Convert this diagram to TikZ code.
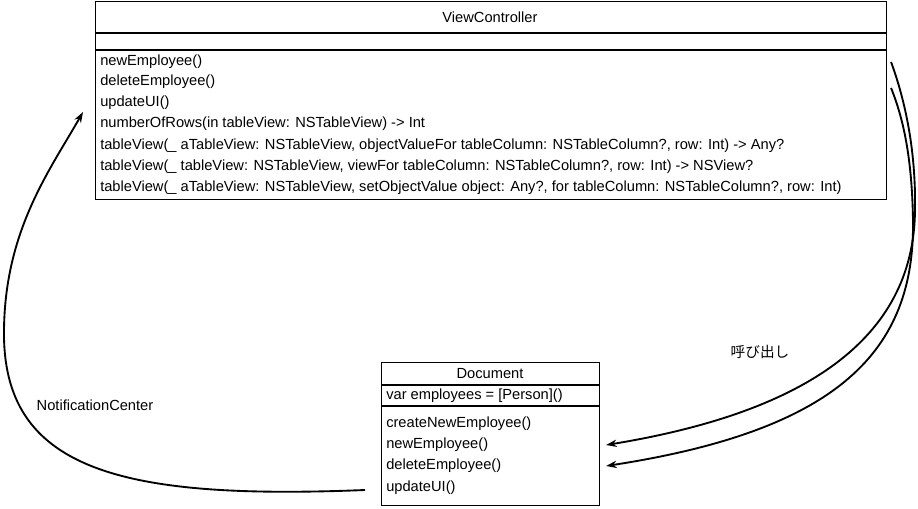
\documentclass[tikz,border=0pt]{standalone}
\usepackage{fontspec}
\setmainfont{Liberation Sans}
\newfontfamily\cjk{Noto Sans CJK JP}
\usetikzlibrary{arrows.meta}
\begin{document}
\begin{tikzpicture}[x=0.75pt,y=-0.75pt,
  box/.style={draw,line width=0.8pt,inner sep=0,anchor=north west},
  sep/.style={line width=0.8pt},
  txt/.style={inner sep=0,anchor=west,font=\fontsize{11pt}{13pt}\selectfont},
  ctxt/.style={inner sep=0,font=\fontsize{11pt}{13pt}\selectfont},
  conn/.style={line width=1.4pt,-{Stealth[length=8pt,width=5.5pt]}}]
\useasboundingbox (0,0) rectangle (918,508);
% ViewController
\node[box,minimum width=791*0.75pt,minimum height=198*0.75pt] (vc) at (95,1) {};
\draw[sep] (vc.west |- 0,33) -- (vc.east |- 0,33);
\draw[sep] (vc.west |- 0,50) -- (vc.east |- 0,50);
\node[ctxt] (vctitle) at (490,17) {ViewController};
\node[txt] (vm1) at (100,62) {newEmployee()};
\node[txt] (vm2) at (100,82) {deleteEmployee()};
\node[txt] (vm3) at (100,103) {updateUI()};
\node[txt] (vm4) at (100,124) {numberOfRows(in tableView: NSTableView) -> Int};
\node[txt] (vm5) at (100,146) {tableView(\_ aTableView: NSTableView, objectValueFor tableColumn: NSTableColumn?, row: Int) -> Any?};
\node[txt] (vm6) at (100,167) {tableView(\_ tableView: NSTableView, viewFor tableColumn: NSTableColumn?, row: Int) -> NSView?};
\node[txt] (vm7) at (100,188) {tableView(\_ aTableView: NSTableView, setObjectValue object: Any?, for tableColumn: NSTableColumn?, row: Int)};
% Document
\node[box,minimum width=218*0.75pt,minimum height=143*0.75pt] (doc) at (381,362) {};
\draw[sep] (doc.west |- 0,385) -- (doc.east |- 0,385);
\draw[sep] (doc.west |- 0,406) -- (doc.east |- 0,406);
\node[ctxt] (doctitle) at (490,374) {Document};
\node[txt] (da) at (386,396) {var employees = [Person]()};
\node[txt] (dm1) at (386,424) {createNewEmployee()};
\node[txt] (dm2) at (386,445) {newEmployee()};
\node[txt] (dm3) at (386,466) {deleteEmployee()};
\node[txt] (dm4) at (386,488) {updateUI()};
% connector ends
\coordinate (s1) at ([xshift=4*0.75pt]vc.east |- vm1);
\coordinate (s2) at ([xshift=4*0.75pt]vc.east |- 0,88);
\coordinate (e1) at ([xshift=6*0.75pt]doc.east |- dm2);
\coordinate (e2) at ([xshift=6*0.75pt]doc.east |- dm3);
\coordinate (s3) at ([xshift=-16*0.75pt]doc.west |- 0,490);
\coordinate (e3) at ([xshift=-12*0.75pt]vc.west |- 0,112);
\draw[conn] (s1) .. controls (905,100) and (916,150) .. (915,210)
  .. controls (914,330) and (820,410) .. (e1);
\draw[conn] (s2) .. controls (904,120) and (912,160) .. (913,220)
  .. controls (915,350) and (840,430) .. (e2);
\draw[conn] (s3) .. controls (120,500) and (2,470) .. (4,330)
  .. controls (5,230) and (50,170) .. (e3);
\node[ctxt] (lbl1) at (760,352) {\cjk 呼び出し};
\node[ctxt] (lbl2) at (95,405) {NotificationCenter};
\end{tikzpicture}
\end{document}
